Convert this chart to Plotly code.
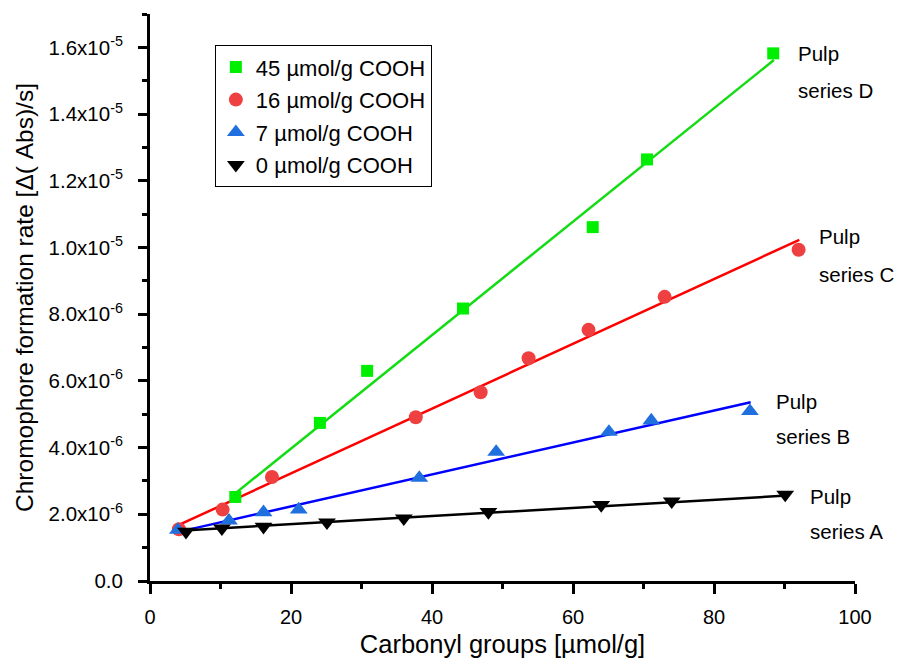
import plotly.graph_objects as go

# ---- data ----
d_x = [12.1, 24.1, 30.8, 44.4, 62.8, 70.5, 88.4]
d_y = [2.52e-6, 4.74e-6, 6.30e-6, 8.17e-6, 10.61e-6, 12.64e-6, 15.82e-6]
c_x = [4.1, 10.3, 17.3, 37.7, 46.9, 53.7, 62.2, 73.0, 92.0]
c_y = [1.55e-6, 2.14e-6, 3.12e-6, 4.91e-6, 5.66e-6, 6.68e-6, 7.53e-6, 8.52e-6, 9.93e-6]
b_x = [3.95, 11.2, 16.1, 21.1, 38.2, 49.1, 65.1, 71.1, 85.1]
b_y = [1.53e-6, 1.81e-6, 2.06e-6, 2.14e-6, 3.09e-6, 3.87e-6, 4.47e-6, 4.81e-6, 5.09e-6]
a_x = [5.1, 10.2, 16.1, 25.1, 36.0, 48.0, 64.0, 74.0, 90.1]
a_y = [1.48e-6, 1.58e-6, 1.63e-6, 1.76e-6, 1.88e-6, 2.07e-6, 2.28e-6, 2.39e-6, 2.59e-6]

# fitted lines (end points)
d_fit_x = [11.7, 88.5]
d_fit_y = [2.56e-6, 15.62e-6]
c_fit_x = [4.1, 92.1]
c_fit_y = [1.68e-6, 10.23e-6]
b_fit_x = [4.2, 85.2]
b_fit_y = [1.48e-6, 5.36e-6]
a_fit_x = [4.2, 90.3]
a_fit_y = [1.51e-6, 2.56e-6]

series_names = ["45 µmol/g COOH", "16 µmol/g COOH", "7 µmol/g COOH", "0 µmol/g COOH"]
series_labels = ["series D", "series C", "series B", "series A"]

y_tickvals = [0, 2e-6, 4e-6, 6e-6, 8e-6, 1.0e-5, 1.2e-5, 1.4e-5, 1.6e-5]
y_ticktext = ["0.0", "2.0x10<sup>-6</sup>", "4.0x10<sup>-6</sup>", "6.0x10<sup>-6</sup>",
              "8.0x10<sup>-6</sup>", "1.0x10<sup>-5</sup>", "1.2x10<sup>-5</sup>",
              "1.4x10<sup>-5</sup>", "1.6x10<sup>-5</sup>"]
x_tickvals = [0, 20, 40, 60, 80, 100]

FONT = "Arial, Liberation Sans, sans-serif"

fig = go.Figure()

fits = [(d_fit_x, d_fit_y, "#14dc14"), (c_fit_x, c_fit_y, "#ff0000"),
        (b_fit_x, b_fit_y, "#0000ff"), (a_fit_x, a_fit_y, "#000000")]
for fx, fy, col in fits:
    fig.add_trace(go.Scatter(x=fx, y=fy, mode="lines", line=dict(color=col, width=2.5),
                             showlegend=False, hoverinfo="skip"))

pts = [
    (d_x, d_y, series_names[0], "square", 12, "#00ee00"),
    (c_x, c_y, series_names[1], "circle", 14, "#ee4040"),
    (b_x, b_y, series_names[2], "triangle-up", 15.5, "#1f6fdf"),
    (a_x, a_y, series_names[3], "triangle-down", 15.5, "#000000"),
]
for i, (px, py, nm, sym, sz, col) in enumerate(pts):
    fig.add_trace(go.Scatter(x=px, y=py, mode="markers", name=nm, legendgroup=str(i),
                             marker=dict(symbol=sym, size=sz, color=col, line=dict(width=0))))

# series labels
label_pos = [(91.6, 15.82e-6, 14.72e-6), (94.6, 10.32e-6, 9.18e-6),
             (88.5, 5.39e-6, 4.34e-6), (93.3, 2.54e-6, 1.48e-6)]
for (lx, ly1, ly2), lab in zip(label_pos, series_labels):
    for yy, tx in ((ly1, "Pulp"), (ly2, lab)):
        fig.add_annotation(x=lx, y=yy, xref="x", yref="y", text=tx, showarrow=False,
                           xanchor="left", yanchor="middle",
                           font=dict(family=FONT, size=20.5, color="#000"))

fig.update_layout(
    width=894, height=650,
    margin=dict(l=142, r=47, t=6, b=77),
    paper_bgcolor="white", plot_bgcolor="white",
    font=dict(family=FONT, size=20, color="#000"),
    legend=dict(x=0.092, y=0.945, xanchor="left", yanchor="top",
                bordercolor="#000", borderwidth=1, bgcolor="white",
                font=dict(family=FONT, size=22), tracegroupgap=1,
                traceorder="grouped"),
    xaxis=dict(range=[0, 100], tickmode="array", tickvals=x_tickvals, automargin=False,
               showgrid=False, zeroline=False, showline=True, linecolor="#000", linewidth=3,
               ticks="outside", ticklen=10, tickwidth=3, tickcolor="#000",
               minor=dict(dtick=10, tick0=0, ticks="outside", ticklen=5, tickwidth=3, tickcolor="#000"),
               tickfont=dict(size=20), ticklabelstandoff=6,
               title=dict(text="Carbonyl groups [µmol/g]", font=dict(size=25.5), standoff=19)),
    yaxis=dict(range=[0, 1.7e-5], tickmode="array", tickvals=y_tickvals, ticktext=y_ticktext,
               automargin=False,
               showgrid=False, zeroline=False, showline=True, linecolor="#000", linewidth=3,
               ticks="outside", ticklen=9, tickwidth=3, tickcolor="#000",
               minor=dict(dtick=1e-6, tick0=0, ticks="outside", ticklen=5, tickwidth=3, tickcolor="#000"),
               tickfont=dict(size=20.5), ticklabelstandoff=11,
               title=dict(text="Chromophore formation rate [Δ( Abs)/s]", font=dict(size=24.5), standoff=8)),
)

fig.write_html("out.html")
